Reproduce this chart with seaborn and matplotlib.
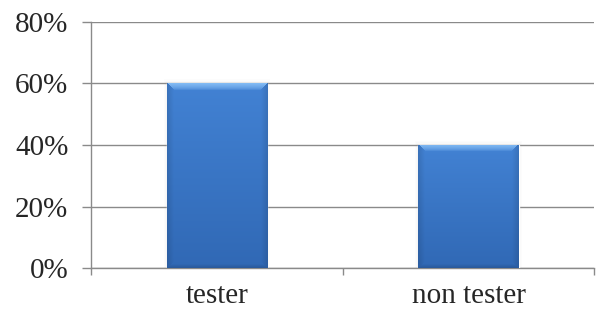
import numpy as np
import pandas as pd
import matplotlib
matplotlib.use("Agg")
import matplotlib.pyplot as plt
import seaborn as sns
from matplotlib.ticker import PercentFormatter

# Data
categories = ["tester", "non tester"]
shares = [60, 40]
y_ticks = [0, 20, 40, 60, 80]

sns.set_style("white")
plt.rcParams["font.family"] = ["Liberation Serif", "DejaVu Serif"]

df = pd.DataFrame({"group": categories, "share": shares})

fig = plt.figure(figsize=(5.96, 3.18), dpi=100)
ax = fig.add_axes([0.153, 0.157, 0.844, 0.774])

sns.barplot(data=df, x="group", y="share", color="#3a78c8", width=0.4,
            saturation=1, ax=ax, zorder=3)

ax.set_xlim(-0.5, 1.5)
ax.set_ylim(0, 80)
ax.set_xlabel("")
ax.set_ylabel("")

grid_col = "#8a8a8a"
ax.set_yticks(y_ticks)
ax.yaxis.set_major_formatter(PercentFormatter(decimals=0))
ax.yaxis.grid(True, color=grid_col, lw=1)
ax.set_axisbelow(True)

# boundaries get tick marks, centres get the labels
ax.set_xticks([-0.5, 0.5, 1.5])
ax.set_xticklabels([])
ax.set_xticks([0, 1], minor=True)
ax.set_xticklabels(categories, minor=True)

ax.tick_params(axis="y", length=6.5, width=1, color=grid_col, pad=10,
               labelsize=21, left=True)
ax.tick_params(axis="x", which="major", length=5, width=1, color=grid_col, bottom=True)
ax.tick_params(axis="x", which="minor", length=0, pad=11, labelsize=21)

for s in ["top", "right"]:
    ax.spines[s].set_visible(False)
for s in ["left", "bottom"]:
    ax.spines[s].set_color(grid_col)
    ax.spines[s].set_linewidth(1)


def bevel_image(W, H, b=7):
    xs = np.arange(W) + 0.5
    ys = np.arange(H)[:, None] + 0.5
    v = ys / H
    top = np.array([0.26, 0.51, 0.83])
    bot = np.array([0.19, 0.41, 0.71])
    img = top * (1 - v[..., None]) + bot * v[..., None]
    img = np.broadcast_to(img, (H, W, 3)).copy()
    d_side = np.broadcast_to(np.minimum(xs, W - xs)[None, :], (H, W))
    d_top = np.broadcast_to(ys, (H, W))
    d_bot = H - d_top
    # side bevels slightly darker
    ws = np.clip(1 - d_side / b, 0, 1) * (d_side <= d_top) * (d_side <= d_bot)
    img = img * (1 - 0.12 * ws[..., None])
    # top bevel highlight
    hi = np.array([0.52, 0.74, 0.96])
    wt = np.clip(1 - d_top / b, 0, 1) ** 0.6 * (d_top < d_side)
    img = img * (1 - wt[..., None]) + hi * wt[..., None]
    # thin dark bottom edge
    wb = np.clip(1 - d_bot / (b * 0.6), 0, 1) * (d_bot < d_side)
    img = img * (1 - 0.15 * wb[..., None])
    return np.clip(img, 0, 1)


for p in list(ax.patches):
    bb = p.get_window_extent()
    W = max(int(round(bb.width)), 2)
    H = max(int(round(bb.height)), 2)
    x0, y0 = p.get_x(), p.get_y()
    w, h = p.get_width(), p.get_height()
    # soft shadow
    for k, a in [(3, 0.025), (2, 0.03), (1, 0.04)]:
        dx = k * 0.004
        dy = k * 0.45
        ax.add_patch(plt.Rectangle((x0 - dx, y0), w + 2 * dx, h + dy,
                                   color="#a0a0a0", alpha=a, lw=0, zorder=2))
    im = ax.imshow(bevel_image(W, H), extent=[x0, x0 + w, y0, y0 + h],
                   aspect="auto", zorder=4, interpolation="bilinear", origin="upper")
    im.set_clip_path(p)

ax.set_xlim(-0.5, 1.5)
ax.set_ylim(0, 80)

fig.savefig("out.png", dpi=100)
